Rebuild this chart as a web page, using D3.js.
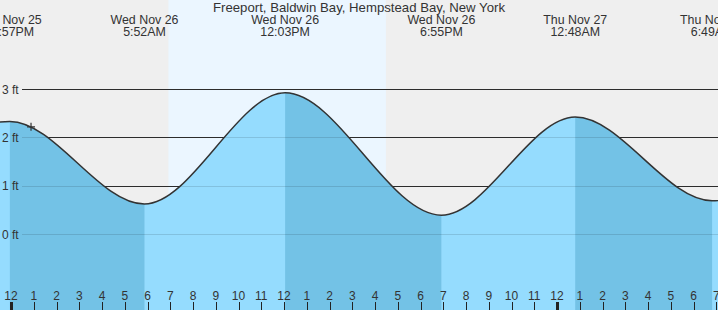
<!DOCTYPE html>
<html>
<head>
<meta charset="utf-8">
<script src="https://cdn.jsdelivr.net/npm/d3@7"></script>
<style>
  body { margin: 0; background: #fff; }
  svg { display: block; font-family: "Liberation Sans", Arial, sans-serif; }
</style>
</head>
<body>
<svg id="tide" width="718" height="310"></svg>
<script>
// tide extremes, hours from Wed Nov 26 00:00 (first and last are off-screen estimates)
var extremeHours = [-6.33, -0.05, 5.867, 12.05, 18.917, 24.8, 30.817, 37.25];
var extremeFeet  = [0.45, 2.33, 0.62, 2.92, 0.39, 2.42, 0.69, 2.8];
var extremeDay   = ["Mon", "Tue Nov 25", "Wed Nov 26", "Wed Nov 26", "Wed Nov 26", "Thu Nov 27", "Thu Nov 27", "Thu"];
var extremeTime  = ["", "11:57PM", "5:52AM", "12:03PM", "6:55PM", "12:48AM", "6:49AM", ""];
var feetTicks = [0, 1, 2, 3];
var dayStart = 6.92, dayEnd = 16.48;   // sunrise / sunset on Wed
var nowHour = 0.88;

var svg = d3.select("#tide"),
    W = +svg.attr("width"),
    H = +svg.attr("height");

var base = Date.UTC(2025, 10, 26, 0, 0);
function hr(h) { return new Date(base + h * 3600000); }

var x = d3.scaleUtc()
    .domain([hr(-11 / 22.75), hr((W - 11) / 22.75)])
    .range([0, W]);
var y = d3.scaleLinear().domain([0, 3]).range([234, 89]);

var pts = extremeHours.map(function(h, i) { return {t: hr(h), v: extremeFeet[i], day: extremeDay[i], time: extremeTime[i]}; });

// background
svg.append("rect").attr("width", W).attr("height", H).attr("fill", "#efefef");
svg.append("rect")
    .attr("x", x(hr(dayStart))).attr("y", 0)
    .attr("width", x(hr(dayEnd)) - x(hr(dayStart))).attr("height", H)
    .attr("fill", "#ebf6ff");

// grid lines (dark, above the water)
svg.append("g").selectAll("line")
    .data(feetTicks)
  .enter().append("line")
    .attr("x1", 22).attr("x2", W)
    .attr("y1", function(d) { return Math.round(y(d)) + 0.5; })
    .attr("y2", function(d) { return Math.round(y(d)) + 0.5; })
    .attr("stroke", "#333").attr("stroke-width", 1);

var area = d3.area()
    .curve(d3.curveMonotoneX)
    .x(function(d) { return x(d.t); })
    .y0(H)
    .y1(function(d) { return y(d.v); });

var line = d3.line()
    .curve(d3.curveMonotoneX)
    .x(function(d) { return x(d.t); })
    .y(function(d) { return y(d.v); });

// falling tide segments (high -> low) in darker blue
var falling = [];
for (var i = 0; i < pts.length - 1; i++) {
  if (pts[i].v > pts[i + 1].v) falling.push([pts[i].t, pts[i + 1].t]);
}
var clip = svg.append("clipPath").attr("id", "fall");
clip.selectAll("rect")
    .data(falling)
  .enter().append("rect")
    .attr("x", function(d) { return x(d[0]); })
    .attr("width", function(d) { return x(d[1]) - x(d[0]); })
    .attr("y", 0).attr("height", H);

svg.append("path").datum(pts).attr("d", area).attr("fill", "#95dcfe");
svg.append("path").datum(pts).attr("d", area).attr("fill", "#73c2e6").attr("clip-path", "url(#fall)");

// faint grid over the water
svg.append("g").selectAll("line")
    .data(feetTicks)
  .enter().append("line")
    .attr("x1", 22).attr("x2", W)
    .attr("y1", function(d) { return Math.round(y(d)) + 0.5; })
    .attr("y2", function(d) { return Math.round(y(d)) + 0.5; })
    .attr("stroke", "#000").attr("stroke-opacity", 0.12);

svg.append("g").selectAll("text")
    .data(feetTicks)
  .enter().append("text")
    .attr("x", 2)
    .attr("y", function(d) { return y(d) + 4.5; })
    .attr("font-size", 12).attr("fill", "#333")
    .text(function(d) { return d + " ft"; });

var curve = svg.append("path").datum(pts)
    .attr("d", line)
    .attr("fill", "none")
    .attr("stroke", "#333")
    .attr("stroke-width", 1.5);

// current-time cross, placed on the curve
var node = curve.node(), len = node.getTotalLength(), lo = 0, hi = len, nx = x(hr(nowHour));
for (var k = 0; k < 40; k++) {
  var mid = (lo + hi) / 2;
  if (node.getPointAtLength(mid).x < nx) lo = mid; else hi = mid;
}
var ny = node.getPointAtLength(lo).y;
svg.append("path")
    .attr("d", "M" + (nx - 4) + "," + ny + "h8M" + nx + "," + (ny - 4) + "v8")
    .attr("stroke", "#333").attr("stroke-width", 1.2);

// hour axis
var hours = d3.utcHour.range(hr(-0.4), hr(31.1));
var ax = svg.append("g");
ax.selectAll("text")
    .data(hours)
  .enter().append("text")
    .attr("x", function(d) { return x(d); })
    .attr("y", 300)
    .attr("text-anchor", "middle")
    .attr("font-size", 12).attr("fill", "#333")
    .text(d3.utcFormat("%-I"));
ax.selectAll("line")
    .data(hours)
  .enter().append("line")
    .attr("x1", function(d) { return Math.round(x(d)) + 0.5; })
    .attr("x2", function(d) { return Math.round(x(d)) + 0.5; })
    .attr("y1", 302).attr("y2", H)
    .attr("stroke", "#222")
    .attr("stroke-width", function(d) { return d.getUTCHours() === 0 ? 3 : 1; });

// extreme labels at the top
var lab = svg.append("g").selectAll("g")
    .data(pts.filter(function(d) { return d.time !== ""; }))
  .enter().append("g")
    .attr("transform", function(d) { return "translate(" + x(d.t) + ",0)"; });
lab.append("text").attr("y", 24).attr("text-anchor", "middle")
    .attr("font-size", 12.4).attr("fill", "#333")
    .text(function(d) { return d.day; });
lab.append("text").attr("y", 36).attr("text-anchor", "middle")
    .attr("font-size", 12.4).attr("fill", "#333")
    .text(function(d) { return d.time; });

svg.append("text")
    .attr("x", 359).attr("y", 11.5)
    .attr("text-anchor", "middle")
    .attr("font-size", 13.2).attr("fill", "#333")
    .text("Freeport, Baldwin Bay, Hempstead Bay, New York");
</script>
</body>
</html>
